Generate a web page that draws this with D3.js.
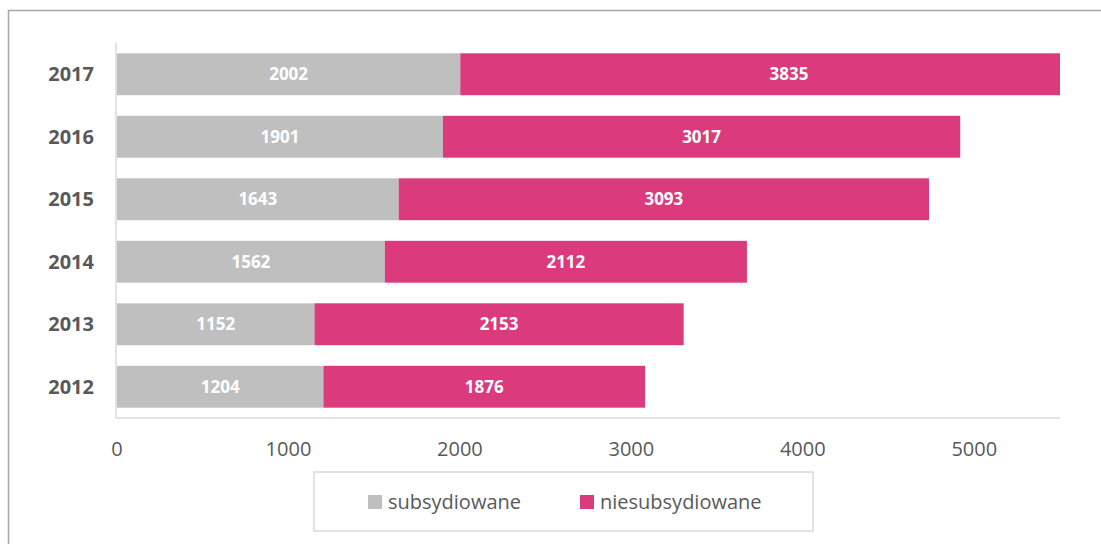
<!DOCTYPE html>
<html>
<head>
<meta charset="utf-8">
<script src="https://cdn.jsdelivr.net/npm/d3@7"></script>
<style>
  body { margin: 0; background: #fff; }
  svg { display: block; font-family: "Open Sans", sans-serif; }
</style>
</head>
<body>
<div id="chart"></div>
<script>
const years = ["2017", "2016", "2015", "2014", "2013", "2012"];
const subsydiowane = [2002, 1901, 1643, 1562, 1152, 1204];
const niesubsydiowane = [3835, 3017, 3093, 2112, 2153, 1876];
const xTicks = [0, 1000, 2000, 3000, 4000, 5000];
const seriesNames = ["subsydiowane", "niesubsydiowane"];
const colors = ["#bfbfbf", "#db3a7d"];

const svg = d3.select("#chart").append("svg").attr("width", 1101).attr("height", 544);

// outer chart frame (cropped on right and bottom)
svg.append("rect")
  .attr("x", 8.5).attr("y", 10.5).attr("width", 1200).attr("height", 600)
  .attr("fill", "none").attr("stroke", "#a6a6a6").attr("stroke-width", 1.5);

const x = d3.scaleLinear().domain([0, 5500]).range([117, 1060]);
const y = d3.scaleBand().domain(years).range([43, 418]).paddingInner(0.33).paddingOuter(0.165);

const rows = years.map((yr, i) => ({ year: yr, a: subsydiowane[i], b: niesubsydiowane[i] }));
const segs = [];
rows.forEach(r => {
  segs.push({ year: r.year, s: 0, x0: 0, x1: r.a, v: r.a });
  segs.push({ year: r.year, s: 1, x0: r.a, x1: r.a + r.b, v: r.b });
});

svg.selectAll(".bar").data(segs).join("rect")
  .attr("class", "bar")
  .attr("x", d => x(d.x0))
  .attr("y", d => y(d.year))
  .attr("width", d => x(Math.min(d.x1, 5500)) - x(d.x0))
  .attr("height", y.bandwidth())
  .attr("fill", d => colors[d.s]);

svg.selectAll(".lbl").data(segs).join("text")
  .attr("class", "lbl")
  .attr("x", d => x((d.x0 + d.x1) / 2))
  .attr("y", d => y(d.year) + y.bandwidth() / 2)
  .attr("dy", "0.35em")
  .attr("text-anchor", "middle")
  .attr("fill", "#fff")
  .attr("font-weight", "bold")
  .attr("font-size", "17px")
  .text(d => d.v);

// axes lines
svg.append("line").attr("x1", 116).attr("x2", 116).attr("y1", 43).attr("y2", 418)
  .attr("stroke", "#d9d9d9").attr("stroke-width", 1.5);
svg.append("line").attr("x1", 116).attr("x2", 1060).attr("y1", 418).attr("y2", 418)
  .attr("stroke", "#d9d9d9").attr("stroke-width", 1.5);

// year labels
svg.selectAll(".yl").data(years).join("text")
  .attr("class", "yl")
  .attr("x", 94)
  .attr("y", d => y(d) + y.bandwidth() / 2)
  .attr("dy", "0.36em")
  .attr("text-anchor", "end")
  .attr("fill", "#595959")
  .attr("font-weight", "bold")
  .attr("font-size", "20px")
  .text(d => d);

// x tick labels
svg.selectAll(".xl").data(xTicks).join("text")
  .attr("class", "xl")
  .attr("x", d => x(d))
  .attr("y", 456)
  .attr("text-anchor", "middle")
  .attr("fill", "#595959")
  .attr("font-size", "20px")
  .text(d => d);

// legend
const lg = svg.append("g");
lg.append("rect").attr("x", 314).attr("y", 472).attr("width", 499).attr("height", 59)
  .attr("fill", "#fff").attr("stroke", "#d9d9d9").attr("stroke-width", 1.5);
const lx = [368, 580];
seriesNames.forEach((n, i) => {
  lg.append("rect").attr("x", lx[i]).attr("y", 495).attr("width", 14).attr("height", 14).attr("fill", colors[i]);
  lg.append("text").attr("x", lx[i] + 20).attr("y", 502).attr("dy", "0.36em")
    .attr("fill", "#595959").attr("font-size", "20px").text(n);
});
</script>
</body>
</html>
